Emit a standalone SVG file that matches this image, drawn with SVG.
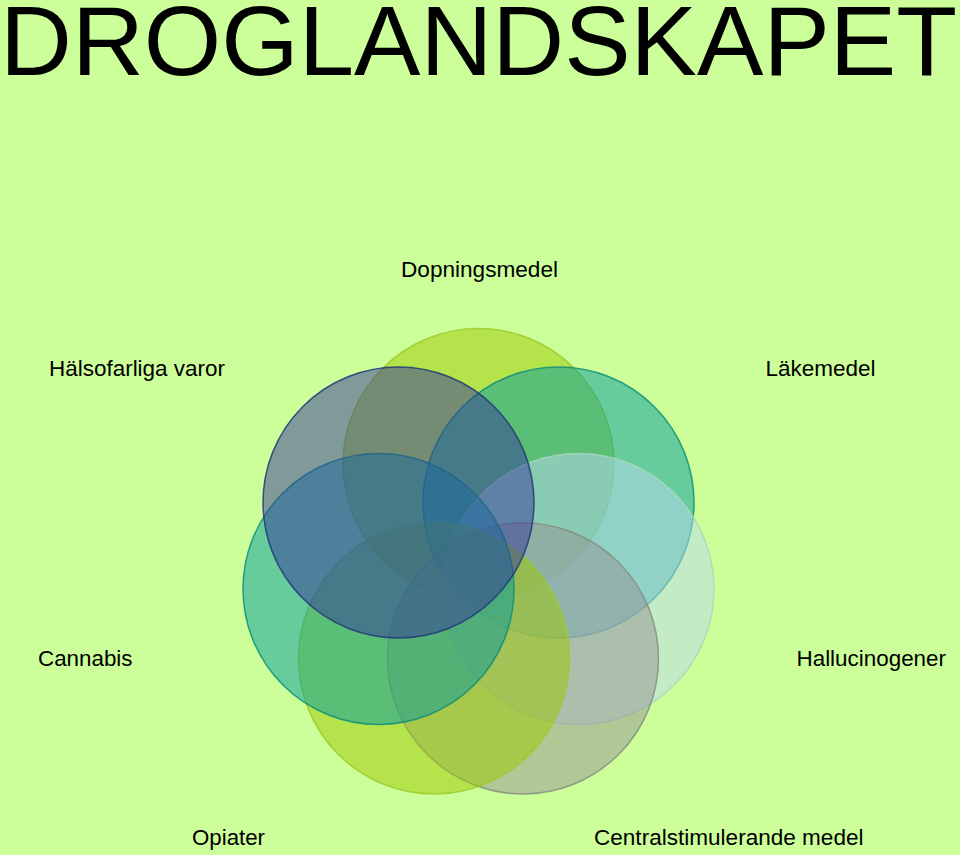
<svg xmlns="http://www.w3.org/2000/svg" width="960" height="855" viewBox="0 0 960 855">
<style>
.lbl{font-family:"Liberation Sans",Arial,sans-serif;font-size:21.5px;fill:#000;}
.title{font-family:"Liberation Sans",Arial,sans-serif;font-size:99px;fill:#000;}
.c{fill-opacity:0.5;stroke-width:1.5;stroke-opacity:0.85;}
</style>
<rect x="0" y="0" width="960" height="855" fill="#CCFF99"/>
<text class="title" x="0" y="75" textLength="957" lengthAdjust="spacingAndGlyphs">DROGLANDSKAPET</text>
<g id="dopningsmedel">
<circle class="c" cx="478.5" cy="464" r="135.5" fill="#9CC700" stroke="#9CCB2E"/>
<text class="lbl" x="401" y="276.5" textLength="157" lengthAdjust="spacingAndGlyphs">Dopningsmedel</text>
</g>
<g id="lakemedel">
<circle class="c" cx="558.5" cy="502.5" r="135.5" fill="#00999F" stroke="#0E8F78"/>
<text class="lbl" x="765.5" y="376" textLength="110" lengthAdjust="spacingAndGlyphs">Läkemedel</text>
</g>
<g id="hallucinogener">
<circle class="c" cx="578.5" cy="589" r="135.5" fill="#BAD9EF" stroke="#A8D8C0"/>
<text class="lbl" x="796.5" y="666" textLength="149.5" lengthAdjust="spacingAndGlyphs">Hallucinogener</text>
</g>
<g id="centralstimulerande">
<circle class="c" cx="523" cy="658.5" r="135.5" fill="#949193" stroke="#868E82"/>
<text class="lbl" x="594" y="845" textLength="269.5" lengthAdjust="spacingAndGlyphs">Centralstimulerande medel</text>
</g>
<g id="opiater">
<circle class="c" cx="434" cy="658.5" r="135.5" fill="#9CC700" stroke="#9CCB2E"/>
<text class="lbl" x="192" y="845" textLength="73" lengthAdjust="spacingAndGlyphs">Opiater</text>
</g>
<g id="cannabis">
<circle class="c" cx="378.5" cy="589" r="135.5" fill="#00999F" stroke="#0E8F78"/>
<text class="lbl" x="38" y="665.5" textLength="94.5" lengthAdjust="spacingAndGlyphs">Cannabis</text>
</g>
<g id="halsofarliga">
<circle class="c" cx="398.5" cy="502.5" r="135.5" fill="#343599" stroke="#1F3A78"/>
<text class="lbl" x="49" y="376" textLength="176" lengthAdjust="spacingAndGlyphs">Hälsofarliga varor</text>
</g>
<g id="connectors"></g>
</svg>
